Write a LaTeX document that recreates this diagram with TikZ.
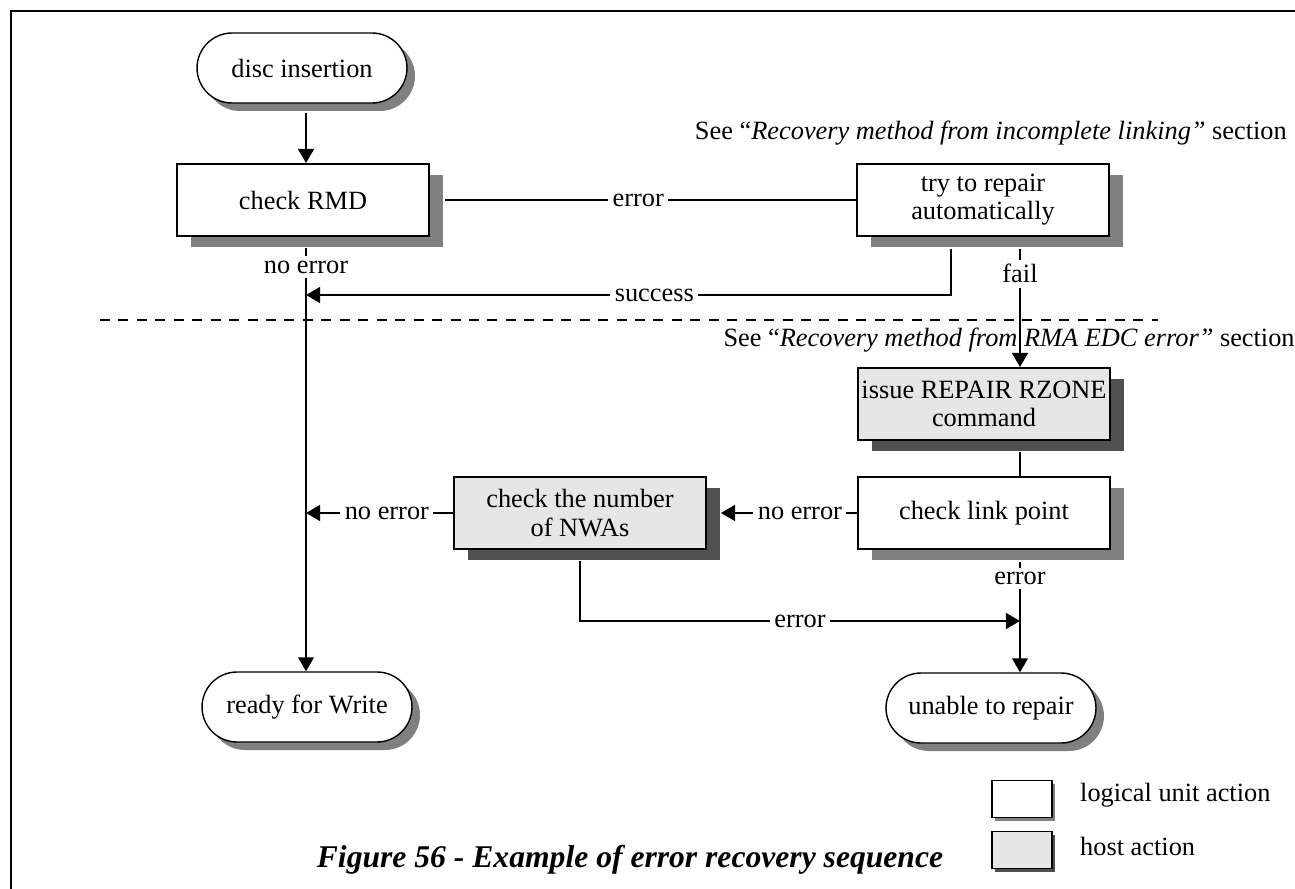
\documentclass[tikz,border=0pt]{standalone}
\usepackage{fontspec}
\setmainfont{Liberation Serif}
\usetikzlibrary{positioning, arrows.meta, shadows, calc}
\definecolor{hostgray}{HTML}{E6E6E6}
\definecolor{shadelight}{HTML}{808080}
\definecolor{shadedark}{HTML}{505050}

\begin{document}
\begin{tikzpicture}[x=0.02cm, y=-0.02cm,
  font=\fontsize{15}{16}\selectfont,
  box/.style={draw, line width=1.1pt, minimum width=5.04cm,
    minimum height=1.44cm, inner sep=0pt, align=center},
  unit/.style={box, fill=white, drop shadow={shadow xshift=0.28cm,
    shadow yshift=-0.22cm, fill=shadelight, opacity=1}},
  host/.style={box, fill=hostgray, drop shadow={shadow xshift=0.28cm,
    shadow yshift=-0.22cm, fill=shadedark, opacity=1}},
  term/.style={draw, line width=0.8pt, fill=white, rounded corners=0.7cm,
    minimum width=4.2cm, minimum height=1.4cm,
    drop shadow={shadow xshift=0.16cm, shadow yshift=-0.16cm,
    fill=shadelight, opacity=1}},
  key/.style={box, minimum width=1.2cm, minimum height=0.74cm},
  flow/.style={-{Triangle[length=8pt, width=9pt]}, line width=1.1pt},
  wire/.style={line width=1.1pt},
  lbl/.style={fill=white, inner sep=2.5pt},
]
  \useasboundingbox (0,0) rectangle (1295,889);

  % Frame
  \coordinate (frameBL) at (11,889);
  \coordinate (frameTL) at (11,11);
  \coordinate (frameTR) at (1300,11);
  \draw[line width=1.7pt] (frameBL) -- (frameTL) -- (frameTR);

  % Columns of the flow
  \coordinate (main) at (306,0);
  \coordinate (col) at (1020,0);

  % Start and end states
  \node[term] (ins) at (302,68) {disc insertion};
  \node[term] (rdy) at (307,707) {ready for Write};
  \node[term] (unable) at (991,708) {unable to repair};

  % Logical unit actions
  \node[unit] (rmd) at (303,200) {check RMD};
  \node[unit] (fix) at (983,200) {try to repair\\automatically};
  \node[unit] (lnk) at (984,513) {check link point};

  % Host actions
  \node[host] (rzone) at (984,404) {issue REPAIR RZONE\\command};
  \node[host] (nwa) at (580,513) {check the number\\of NWAs};

  % Section notes
  \node[anchor=east] (noteA) at (1293,133)
    {See ``\textit{Recovery method from incomplete linking''} section};
  \node[anchor=east, inner sep=0pt] (noteB) at (1295,340)
    {See ``\textit{Recovery method from RMA EDC error''} section};

  % Separator logical unit / host
  \coordinate (sepL) at (100,320);
  \coordinate (sepR) at (1158,320);
  \draw[dash pattern=on 5.7pt off 4.8pt, line width=0.8pt] (sepL) -- (sepR);

  % Main path
  \draw[flow] ($(ins.south -| main)+(0,9)$) -- (rmd.north -| main);
  \draw[flow] ($(rmd.south -| main)+(0,11)$)
    -- node[lbl, pos=0.045] {no error} (rdy.north -| main);
  \draw[wire] ($(rmd.east)+(15,0)$) -- node[lbl, pos=0.47] {error} (fix.west);

  % Automatic repair
  \coordinate (succ) at (951,295);
  \draw[flow] ($(fix.south -| succ)+(0,12)$) -- (succ)
    -- node[lbl, pos=0.46] {success} (succ -| main);
  \draw[flow] ($(fix.south -| col)+(0,12)$)
    -- node[lbl, pos=0.21] {fail} (rzone.north -| col);

  % Host repair
  \draw[wire] ($(rzone.south -| col)+(0,11)$) -- (lnk.north -| col);
  \draw[flow] (lnk.west)
    -- node[lbl, pos=0.42] {no error} ($(lnk.west -| nwa.east)+(14,0)$);
  \draw[flow] (nwa.west) -- node[lbl, pos=0.45] {no error} (nwa.west -| main);
  \coordinate (err) at (580,621);
  \draw[flow] ($(nwa.south)+(0,11)$) -- (err)
    -- node[lbl] {error} (err -| col);
  \draw[flow] ($(lnk.south -| col)+(0,12)$)
    -- node[lbl, pos=0.15] {error} (unable.north -| col);

  % Legend
  \node[key, fill=white, drop shadow={shadow xshift=0.06cm,
    shadow yshift=-0.06cm, fill=shadelight, opacity=1}] (keyunit) at (1022,799) {};
  \node[key, fill=hostgray, drop shadow={shadow xshift=0.06cm,
    shadow yshift=-0.06cm, fill=shadedark, opacity=1}] (keyhost) at (1022,850) {};
  \node[right=0.42cm of keyunit, yshift=0.08cm] (keyunittxt) {logical unit action};
  \node[right=0.42cm of keyhost, yshift=0.08cm] (keyhosttxt) {host action};

  % Caption
  \node[font=\fontsize{18}{21}\selectfont\bfseries\itshape] (cap) at (630,860)
    {Figure 56 - Example of error recovery sequence};
\end{tikzpicture}
\end{document}
